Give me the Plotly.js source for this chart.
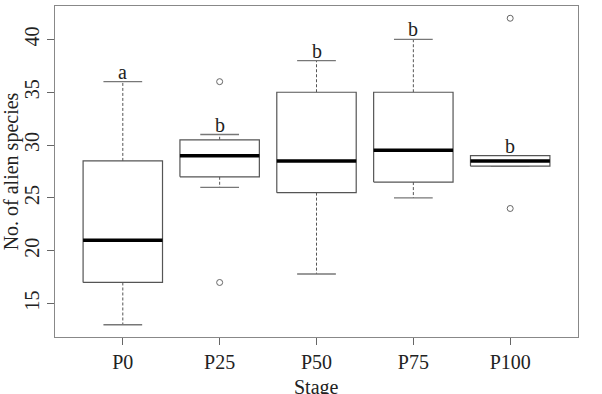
<!DOCTYPE html>
<html>
<head>
<meta charset="utf-8">
<script src="https://cdn.plot.ly/plotly-3.0.1.min.js"></script>
<style>html,body{margin:0;padding:0;background:#fff;}#chart{width:602px;height:394px;}</style>
</head>
<body>
<div id="chart"></div>
<script>
const stages = ['P0', 'P25', 'P50', 'P75', 'P100'];
const lowerWhisker = [13, 26, 17.8, 25, 28];
const q1 = [17, 27, 25.5, 26.5, 28];
const median = [21, 29, 28.5, 29.5, 28.5];
const q3 = [28.5, 30.5, 35, 35, 29];
const upperWhisker = [36, 31, 38, 40, 29];
const outlierStage = ['P25', 'P25', 'P100', 'P100'];
const outlierValue = [36, 17, 42, 24];
const groupLetters = ['a', 'b', 'b', 'b', 'b'];
const xTitle = 'Stage';
const yTitle = 'No. of alien species';

const BOX_HALF = 0.41, CAP_HALF = 0.2;
const serif = 'Liberation Serif, Times New Roman, serif';
const traces = [];
stages.forEach((s, i) => {
  const x = i + 1;
  traces.push({type: 'scatter', mode: 'lines', x: [x, x, null, x, x],
    y: [q3[i], upperWhisker[i], null, q1[i], lowerWhisker[i]],
    line: {color: '#555', width: 1, dash: '3px,2px'}, hoverinfo: 'skip', showlegend: false});
  traces.push({type: 'scatter', mode: 'lines',
    x: [x - CAP_HALF, x + CAP_HALF, null, x - CAP_HALF, x + CAP_HALF],
    y: [upperWhisker[i], upperWhisker[i], null, lowerWhisker[i], lowerWhisker[i]],
    line: {color: '#777', width: 1.3}, hoverinfo: 'skip', showlegend: false});
  traces.push({type: 'scatter', mode: 'lines',
    x: [x - BOX_HALF, x + BOX_HALF, x + BOX_HALF, x - BOX_HALF, x - BOX_HALF],
    y: [q1[i], q1[i], q3[i], q3[i], q1[i]],
    fill: 'toself', fillcolor: '#fff',
    line: {color: '#555', width: 1.2}, hoverinfo: 'skip', showlegend: false});
  traces.push({type: 'scatter', mode: 'lines',
    x: [x - BOX_HALF, x + BOX_HALF], y: [median[i], median[i]],
    line: {color: '#000', width: 3.5}, name: s, showlegend: false});
});
traces.push({type: 'scatter', mode: 'markers',
  x: outlierStage.map(s => stages.indexOf(s) + 1), y: outlierValue,
  marker: {symbol: 'circle-open', size: 6, color: '#666', line: {width: 1}},
  showlegend: false});

const annotations = stages.map((s, i) => ({
  x: i + 1, y: upperWhisker[i], xref: 'x', yref: 'y', text: groupLetters[i],
  showarrow: false, yanchor: 'middle', yshift: 10,
  font: {family: serif, size: 20, color: '#222'}
}));
annotations.push({
  x: 0.5, y: -0.112, xref: 'paper', yref: 'paper', text: xTitle,
  showarrow: false, xanchor: 'center', yanchor: 'top',
  font: {family: serif, size: 20, color: '#222'}
});

const layout = {
  width: 602, height: 394,
  margin: {l: 54.5, r: 24, t: 6, b: 57},
  paper_bgcolor: '#fff', plot_bgcolor: '#fff',
  showlegend: false,
  font: {family: serif, size: 20, color: '#222'},
  xaxis: {
    range: [0.3, 5.7], tickvals: stages.map((s, i) => i + 1), ticktext: stages,
    showgrid: false, zeroline: false, showline: true, mirror: true,
    linecolor: '#888', linewidth: 1.2, ticks: 'outside', ticklen: 7, tickcolor: '#666',
    tickfont: {family: serif, size: 20, color: '#222'}
  },
  yaxis: {
    range: [11.84, 43.16], tickvals: [15, 20, 25, 30, 35, 40], tickangle: -90,
    showgrid: false, zeroline: false, showline: true, mirror: true,
    linecolor: '#888', linewidth: 1.2, ticks: 'outside', ticklen: 7, tickcolor: '#666',
    tickfont: {family: serif, size: 20, color: '#222'},
    title: {text: yTitle, font: {family: serif, size: 20, color: '#222'}}
  },
  annotations: annotations
};
Plotly.newPlot('chart', traces, layout, {displayModeBar: false, staticPlot: true});
</script>
</body>
</html>
